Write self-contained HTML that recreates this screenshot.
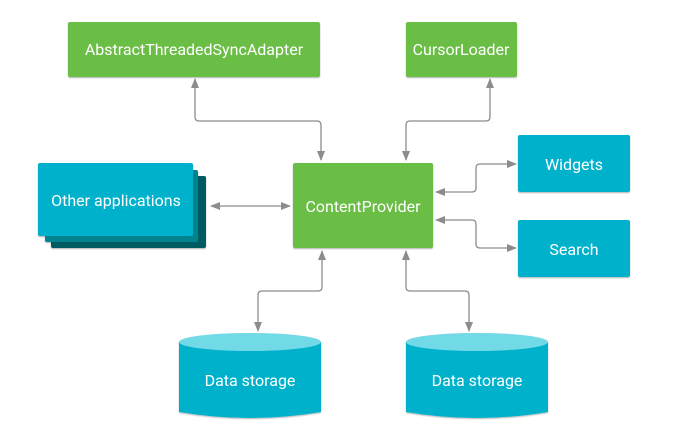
<!DOCTYPE html>
<html><head><style>
body{margin:0;background:#fff;}
svg{display:block;}
text{font-family:"Roboto","Liberation Sans",sans-serif;font-size:16px;fill:#fff;text-anchor:middle;}
</style></head><body>
<svg width="683" height="446" viewBox="0 0 683 446">
<defs>
<marker id="a" markerWidth="10" markerHeight="10" refX="9" refY="5" orient="auto-start-reverse" markerUnits="userSpaceOnUse">
<path d="M0,1 L10,5 L0,9 Z" fill="#8c8c8c"/></marker>
<filter id="s" x="-10%" y="-10%" width="120%" height="130%"><feDropShadow dx="0" dy="1" stdDeviation="0.8" flood-opacity="0.3"/></filter>
</defs>
<g fill="none" stroke="#8c8c8c" stroke-width="1.3">
<path d="M195,79 V117 Q195,121 199,121 H317 Q321,121 321,125 V160" marker-start="url(#a)" marker-end="url(#a)"/>
<path d="M490,79 V117 Q490,121 486,121 H410 Q406,121 406,125 V160" marker-start="url(#a)" marker-end="url(#a)"/>
<path d="M211,206 H290" marker-start="url(#a)" marker-end="url(#a)"/>
<path d="M436,192 H472 Q476,192 476,188 V168 Q476,164 480,164 H516" marker-start="url(#a)" marker-end="url(#a)"/>
<path d="M436,220 H472 Q476,220 476,224 V244 Q476,248 480,248 H516" marker-start="url(#a)" marker-end="url(#a)"/>
<path d="M322,251 V287 Q322,291 318,291 H262 Q258,291 258,295 V331" marker-start="url(#a)" marker-end="url(#a)"/>
<path d="M406,251 V287 Q406,291 410,291 H465 Q469,291 469,295 V331" marker-start="url(#a)" marker-end="url(#a)"/>
</g>
<g filter="url(#s)">
<rect x="68" y="22" width="252" height="55" rx="2" fill="#6bbd45"/>
<rect x="406" y="22" width="111" height="55" rx="2" fill="#6bbd45"/>
<rect x="293" y="163" width="140" height="85" rx="2" fill="#6bbd45"/>
<rect x="518" y="135" width="112" height="57" rx="2" fill="#00b1cc"/>
<rect x="518" y="220" width="112" height="57" rx="2" fill="#00b1cc"/>
<rect x="51" y="176" width="155" height="72" rx="2" fill="#005a62"/>
<rect x="45" y="170" width="153" height="72" rx="2" fill="#00838f"/>
<rect x="38" y="163" width="155" height="73" rx="2" fill="#00b1cc"/>
<path d="M179,342 V412 Q250,424 321,412 V342 Z" fill="#00b1cc"/>
<ellipse cx="250" cy="342" rx="71" ry="9" fill="#72d9e6"/>
<path d="M406,342 V412 Q477,424 548,412 V342 Z" fill="#00b1cc"/>
<ellipse cx="477" cy="342" rx="71" ry="9" fill="#72d9e6"/>
</g>
<text x="194" y="55">AbstractThreadedSyncAdapter</text>
<text x="461" y="55">CursorLoader</text>
<text x="363" y="212">ContentProvider</text>
<text x="574" y="170">Widgets</text>
<text x="574" y="255">Search</text>
<text x="116" y="206">Other applications</text>
<text x="250" y="386">Data storage</text>
<text x="477" y="386">Data storage</text>
</svg>
</body></html>
